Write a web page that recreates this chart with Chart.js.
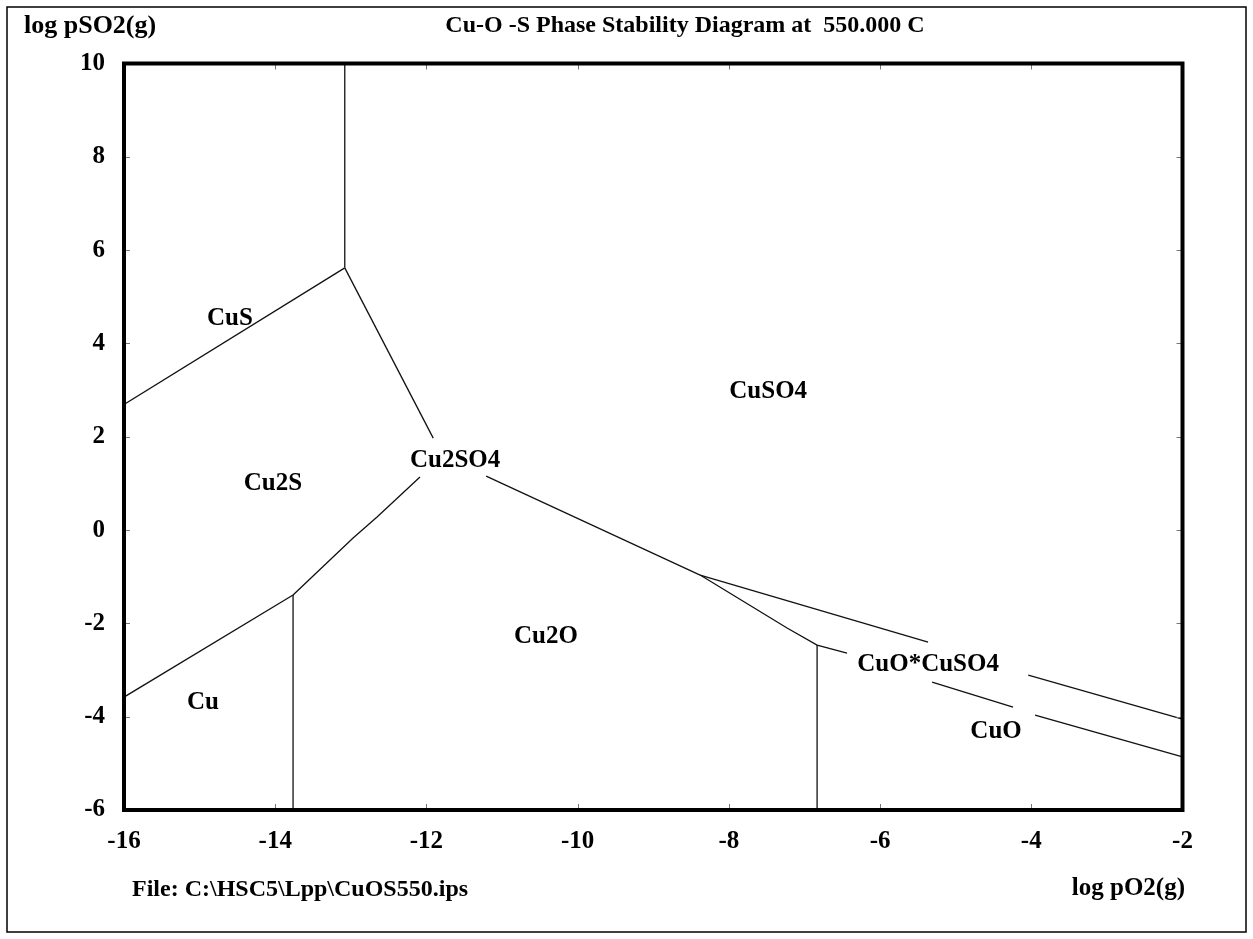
<!DOCTYPE html>
<html>
<head>
<meta charset="utf-8">
<script src="https://cdn.jsdelivr.net/npm/chart.js@4.4.1/dist/chart.umd.min.js"></script>
<style>
  html, body { margin: 0; padding: 0; background: #ffffff; }
  #wrap { width: 1253px; height: 939px; position: relative; }
  canvas { display: block; }
</style>
</head>
<body>
<div id="wrap"><canvas id="c" width="1253" height="939"></canvas></div>
<script>
// ---- Axis ticks ----
const xTicks = [-16, -14, -12, -10, -8, -6, -4, -2];
const yTicks = [-6, -4, -2, 0, 2, 4, 6, 8, 10];

// ---- Phase boundary lines (log pO2, log pSO2) ----
const cuS_Cu2S      = [[-16, 2.69], [-13.08, 5.62]];
const cuS_CuSO4     = [[-13.08, 5.62], [-13.08, 10]];
const cu2S_CuSO4    = [[-13.08, 5.62], [-11.91, 1.97]];
const cu2S_Cu2O     = [[-12.085, 1.136], [-12.653, 0.279], [-12.97, -0.171], [-13.764, -1.393]];
const cu_Cu2S       = [[-13.764, -1.393], [-16, -3.58]];
const cu_Cu2O       = [[-13.764, -1.393], [-13.764, -6]];
const cu2O_CuSO4    = [[-11.21, 1.157], [-8.38, -0.964]];
const cuSO4_Basic1  = [[-8.38, -0.964], [-5.365, -2.40]];
const cuSO4_Basic2  = [[-4.04, -3.107], [-2, -4.05]];
const cu2O_Basic    = [[-8.38, -0.964], [-7.23, -2.10], [-6.833, -2.464], [-6.437, -2.636]];
const cu2O_CuO      = [[-6.833, -2.464], [-6.833, -6]];
const basic_CuO1    = [[-5.312, -3.257], [-4.241, -3.793]];
const basic_CuO2    = [[-3.95, -3.964], [-2, -4.864]];

const boundaries = [cuS_Cu2S, cuS_CuSO4, cu2S_CuSO4, cu2S_Cu2O, cu_Cu2S, cu_Cu2O,
  cu2O_CuSO4, cuSO4_Basic1, cuSO4_Basic2, cu2O_Basic, cu2O_CuO, basic_CuO1, basic_CuO2];

// ---- Phase labels ----
const phaseNames = ['CuS', 'Cu2S', 'Cu2SO4', 'CuSO4', 'Cu2O', 'Cu', 'CuO*CuSO4', 'CuO'];
const phaseX     = [-14.6, -14.03, -11.62, -7.48, -10.42, -14.955, -5.365, -4.466];
const phaseY     = [4.54, 0.99, 1.48, 2.96, -2.29, -3.69, -2.89, -4.31];

const titleText = 'Cu-O -S Phase Stability Diagram at  550.000 C';
const yTitle = 'log pSO2(g)';
const xTitle = 'log pO2(g)';
const fileText = 'File: C:\\HSC5\\Lpp\\CuOS550.ips';

const SERIF = '"Liberation Serif", "Times New Roman", serif';

const datasets = boundaries.map(b => ({
  data: b.map(p => ({ x: p[0], y: p[1] })),
  showLine: true,
  borderColor: '#111111',
  borderWidth: 1.3,
  pointRadius: 0,
  pointHoverRadius: 0,
  fill: false,
  tension: 0
}));

const decorPlugin = {
  id: 'decor',
  beforeDraw(chart) {
    const ctx = chart.ctx;
    ctx.save();
    ctx.fillStyle = '#ffffff';
    ctx.fillRect(0, 0, chart.width, chart.height);
    ctx.restore();
  },
  afterDraw(chart) {
    const ctx = chart.ctx;
    const a = chart.chartArea;
    const xs = chart.scales.x, ys = chart.scales.y;
    ctx.save();
    // inward ticks
    ctx.strokeStyle = '#777777';
    ctx.lineWidth = 1;
    const tl = 6;
    xTicks.forEach(v => {
      const px = Math.round(xs.getPixelForValue(v)) + 0.5;
      ctx.beginPath();
      ctx.moveTo(px, a.bottom); ctx.lineTo(px, a.bottom - tl);
      ctx.moveTo(px, a.top); ctx.lineTo(px, a.top + tl);
      ctx.stroke();
    });
    yTicks.forEach(v => {
      const py = Math.round(ys.getPixelForValue(v)) + 0.5;
      ctx.beginPath();
      ctx.moveTo(a.left, py); ctx.lineTo(a.left + tl, py);
      ctx.moveTo(a.right, py); ctx.lineTo(a.right - tl, py);
      ctx.stroke();
    });
    // phase labels
    ctx.fillStyle = '#000000';
    ctx.font = 'bold 25px ' + SERIF;
    ctx.textAlign = 'center';
    ctx.textBaseline = 'middle';
    phaseNames.forEach((n, i) => {
      ctx.fillText(n, xs.getPixelForValue(phaseX[i]), ys.getPixelForValue(phaseY[i]));
    });
    // thick plot frame
    ctx.strokeStyle = '#000000';
    ctx.lineWidth = 4;
    ctx.strokeRect(a.left, a.top, a.right - a.left, a.bottom - a.top);
    // outer frame
    ctx.lineWidth = 1.5;
    ctx.strokeRect(7, 7, chart.width - 14, chart.height - 14);
    // texts
    ctx.textBaseline = 'alphabetic';
    ctx.font = 'bold 24px ' + SERIF;
    ctx.textAlign = 'center';
    ctx.fillText(titleText, 685, 32);
    ctx.font = 'bold 26px ' + SERIF;
    ctx.textAlign = 'left';
    ctx.fillText(yTitle, 24, 33);
    ctx.font = 'bold 24px ' + SERIF;
    ctx.fillText(fileText, 132, 896);
    ctx.textAlign = 'right';
    ctx.font = 'bold 25px ' + SERIF;
    ctx.fillText(xTitle, 1185, 895);
    ctx.restore();
  }
};

new Chart(document.getElementById('c'), {
  type: 'scatter',
  data: { datasets },
  options: {
    responsive: false,
    devicePixelRatio: 1,
    animation: false,
    events: [],
    layout: { padding: { top: 63.5, left: 0, right: 70.5, bottom: 69 } },
    plugins: { legend: { display: false }, tooltip: { enabled: false }, title: { display: false } },
    scales: {
      x: {
        type: 'linear', min: -16, max: -2,
        afterFit: s => { s.height = 60; },
        afterBuildTicks: s => { s.ticks = xTicks.map(v => ({ value: v })); },
        grid: { display: false, drawTicks: false },
        border: { display: false },
        ticks: { color: '#000', font: { family: SERIF, size: 25, weight: 'bold' }, padding: 17, maxRotation: 0 }
      },
      y: {
        type: 'linear', min: -6, max: 10,
        afterFit: s => { s.width = 124; },
        afterBuildTicks: s => { s.ticks = yTicks.map(v => ({ value: v })); },
        grid: { display: false, drawTicks: false },
        border: { display: false },
        ticks: { color: '#000', font: { family: SERIF, size: 25, weight: 'bold' }, padding: 19 }
      }
    }
  },
  plugins: [decorPlugin]
});
</script>
</body>
</html>
